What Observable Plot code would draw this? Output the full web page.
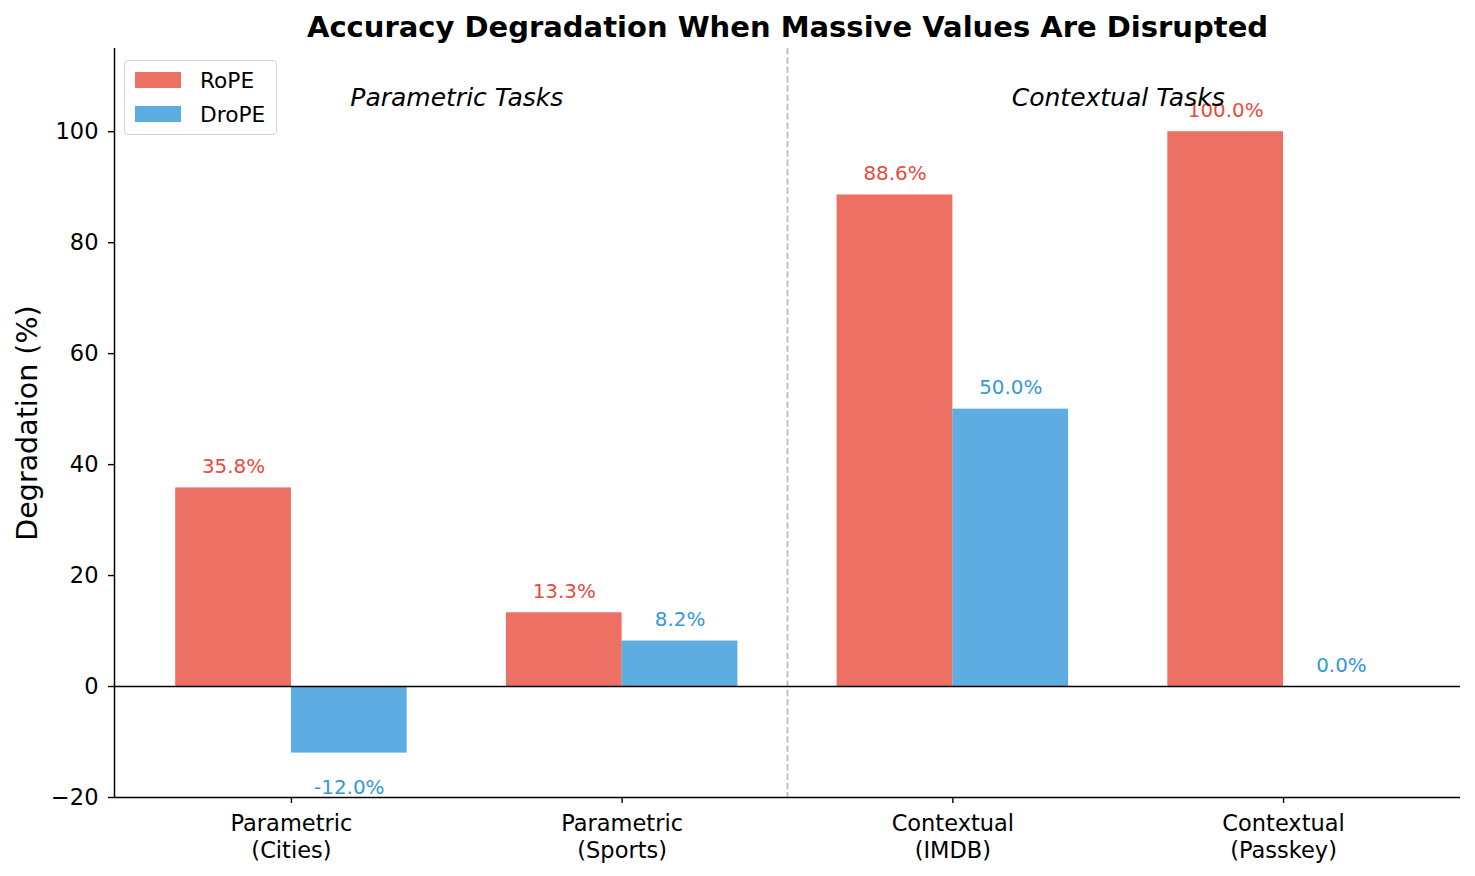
<!DOCTYPE html>
<html><head><meta charset="utf-8">
<script src="https://cdn.jsdelivr.net/npm/d3@7"></script>
<script src="https://cdn.jsdelivr.net/npm/@observablehq/plot@0.6"></script>
<style>
body{margin:0;background:#fff;}
#wrap{position:relative;width:1475px;height:876px;font-family:"DejaVu Sans";}
#legend-box{position:absolute;left:124px;top:60px;width:151px;height:73px;border:1.5px solid #d4d4d4;border-radius:4px;background:rgba(255,255,255,0.8);}
.sw{position:absolute;left:135px;width:46px;height:16px;}
.lt{position:absolute;left:200px;font-size:21.7px;line-height:24px;color:#000;white-space:nowrap;}
</style></head>
<body>
<div id="wrap"></div>
<script>
const categories = ["Parametric\n(Cities)", "Parametric\n(Sports)", "Contextual\n(IMDB)", "Contextual\n(Passkey)"];
const groups = ["Parametric", "Parametric", "Contextual", "Contextual"];
const ropeValues = [35.8, 13.3, 88.6, 100.0];
const dropeValues = [-12.0, 8.2, 50.0, 0.0];
const seriesNames = ["RoPE", "DroPE"];
const seriesFill = ["#e74c3c", "#3498db"];
const groupNames = ["Parametric", "Contextual"];
const sectionNames = ["Parametric Tasks", "Contextual Tasks"];
const yTicks = [-20, 0, 20, 40, 60, 80, 100];
const yDomain = [-20, 115];
const title = "Accuracy Degradation When Massive Values Are Disrupted";
const yLabel = "Degradation (%)";

const barWidth = 0.35;
const rows = [];
categories.forEach((c, i) => {
  rows.push({i, series: 0, value: ropeValues[i], x1: i - barWidth, x2: i});
  rows.push({i, series: 1, value: dropeValues[i], x1: i, x2: i + barWidth});
});
const rope = rows.filter(d => d.series === 0);
const drope = rows.filter(d => d.series === 1);
const span = (categories.length - 1) + 2 * barWidth;
const xDomain = [-barWidth - 0.05 * span, categories.length - 1 + barWidth + 0.05 * span];

const sectionRows = groupNames.map((g, k) => {
  const idx = groups.map((gg, i) => gg === g ? i : null).filter(v => v !== null);
  return {name: sectionNames[k], x: d3.mean(idx)};
});
const lastParam = d3.max(groups.map((g, i) => g === "Parametric" ? i : -1));
const divider = [(lastParam + lastParam + 1) / 2];

const fmt = v => v.toFixed(1) + "%";
const cx = d => (d.x1 + d.x2) / 2;

const chart = Plot.plot({
  width: 1475,
  height: 876,
  marginLeft: 114,
  marginRight: 15,
  marginTop: 48,
  marginBottom: 79,
  style: {fontFamily: "DejaVu Sans", fontSize: "22.5px", background: "#fff", color: "#000"},
  x: {type: "linear", domain: xDomain, label: null},
  y: {domain: yDomain, label: null},
  marks: [
    Plot.ruleX(divider, {stroke: "#bdbdbd", strokeWidth: 1.8, strokeDasharray: "6.5,2.8"}),
    Plot.rectY(rope, {x1: "x1", x2: "x2", y1: 0, y2: "value", fill: seriesFill[0], fillOpacity: 0.8}),
    Plot.rectY(drope, {x1: "x1", x2: "x2", y1: 0, y2: "value", fill: seriesFill[1], fillOpacity: 0.8}),
    Plot.ruleY([0], {stroke: "#000", strokeWidth: 1.4}),
    Plot.ruleX([xDomain[0]], {stroke: "#000", strokeWidth: 1.5}),
    Plot.ruleY([yDomain[0]], {stroke: "#000", strokeWidth: 1.5}),
    Plot.axisY({ticks: yTicks, tickSize: 6, tickPadding: 10, label: null, fontSize: 22.5, strokeWidth: 1.4}),
    Plot.axisX({ticks: d3.range(categories.length), tickFormat: i => categories[i], tickSize: 6, tickPadding: 8, label: null, fontSize: 22.5, lineHeight: 1.2, strokeWidth: 1.4}),
    Plot.text(rope, {x: cx, y: "value", text: d => fmt(d.value), fill: seriesFill[0], lineAnchor: "bottom", dy: -15, fontSize: 19.9}),
    Plot.text(drope.filter(d => d.value >= 0), {x: cx, y: "value", text: d => fmt(d.value), fill: seriesFill[1], lineAnchor: "bottom", dy: -15, fontSize: 19.9}),
    Plot.text(drope.filter(d => d.value < 0), {x: cx, y: "value", text: d => fmt(d.value), fill: seriesFill[1], lineAnchor: "bottom", dy: 41, fontSize: 19.9}),
    Plot.text(sectionRows, {x: "x", frameAnchor: "top", text: "name", dy: 57, lineAnchor: "bottom", fontStyle: "italic", fontSize: 25}),
    Plot.text([title], {frameAnchor: "top", text: d => d, dy: -12, lineAnchor: "bottom", textAnchor: "middle", fontSize: 29, fontWeight: "bold"}),
    Plot.text([yLabel], {frameAnchor: "left", text: d => d, dx: -86.5, rotate: -90, textAnchor: "middle", lineAnchor: "middle", fontSize: 28.5})
  ]
});

const wrap = document.getElementById("wrap");
wrap.appendChild(chart);
const box = document.createElement("div");
box.id = "legend-box";
wrap.appendChild(box);
const swTop = [72, 106];
const txTop = [68.5, 102.5];
seriesNames.forEach((name, k) => {
  const sw = document.createElement("div");
  sw.className = "sw";
  sw.style.top = swTop[k] + "px";
  sw.style.background = seriesFill[k];
  sw.style.opacity = 0.8;
  wrap.appendChild(sw);
  const t = document.createElement("div");
  t.className = "lt";
  t.style.top = txTop[k] + "px";
  t.textContent = name;
  wrap.appendChild(t);
});
</script>
</body></html>
